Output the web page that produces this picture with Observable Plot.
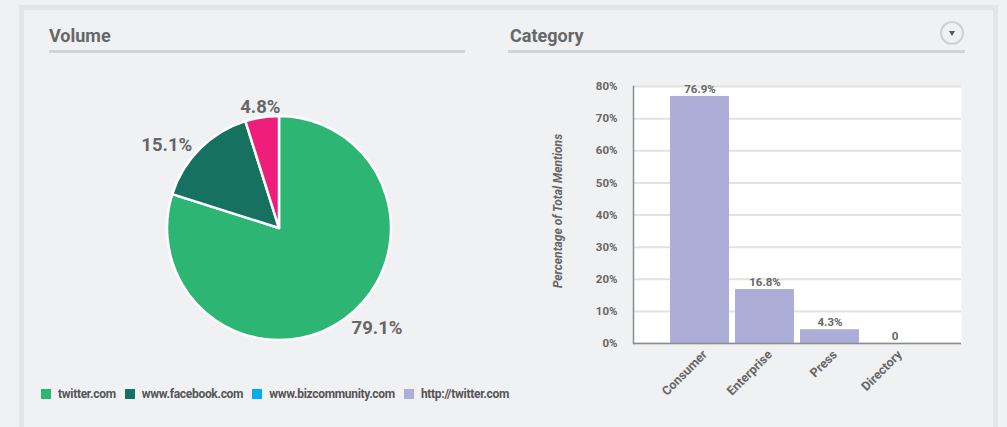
<!DOCTYPE html>
<html><head><meta charset="utf-8">
<script src="https://cdn.jsdelivr.net/npm/d3@7"></script>
<script src="https://cdn.jsdelivr.net/npm/@observablehq/plot@0.6"></script>
<style>
html,body{margin:0;padding:0}
body{background:#f0f1f3;font-family:Roboto,"DejaVu Sans",sans-serif;width:1007px;height:427px;overflow:hidden;position:relative;color:#666}
.frame{position:absolute;left:19px;top:5px;width:979px;height:440px;border:5px solid #e4e5e7;border-bottom:none;box-sizing:border-box}
.title{position:absolute;font-weight:700;font-size:18px;line-height:18px;color:#676767}
.rule{position:absolute;height:3px;background:#d2d3d5}
.icon{position:absolute;left:940px;top:21px;width:20px;height:20px;border:2px solid #cfd0d2;border-radius:50%;box-sizing:content-box}
.icon:after{content:"";position:absolute;left:7px;top:8px;border-left:3px solid transparent;border-right:3px solid transparent;border-top:5px solid #555}
#pie{position:absolute;left:49px;top:60px}
#bars{position:absolute;left:540px;top:70px}
#legend{position:absolute;left:41px;top:387px;display:flex;gap:9px;font-weight:700;font-size:12px;letter-spacing:-0.3px;color:#555;align-items:center}
#legend .item{display:flex;align-items:center;gap:7px}
#legend .sw{width:10px;height:10px;display:inline-block}
</style>
</head><body>
<div class="frame"></div>
<div class="title" style="left:49px;top:27px">Volume</div>
<div class="rule" style="left:49px;top:50px;width:416px"></div>
<div class="title" style="left:510px;top:27px">Category</div>
<div class="rule" style="left:508px;top:50px;width:457px"></div>
<div class="icon"></div>
<div id="pie"></div>
<div id="bars"></div>
<div id="legend"></div>
<script>
// Pie data
const pieDomains = ["twitter.com", "www.facebook.com", "www.bizcommunity.com"];
const pieShares = [79.1, 15.1, 4.8];
const pieLabels = ["79.1%", "15.1%", "4.8%"];
const pieColors = ["#2db673", "#177160", "#ee1e7a"];

// Legend
const legendNames = ["twitter.com", "www.facebook.com", "www.bizcommunity.com", "http://twitter.com"];
const legendColors = ["#2db673", "#177160", "#00aeef", "#adaed7"];

// Bar data
const categories = ["Consumer", "Enterprise", "Press", "Directory"];
const mentions = [76.9, 16.8, 4.3, 0];
const mentionLabels = ["76.9%", "16.8%", "4.3%", "0"];
const yTicks = [0, 10, 20, 30, 40, 50, 60, 70, 80];
const yTickLabels = ["0%", "10%", "20%", "30%", "40%", "50%", "60%", "70%", "80%"];
const yTitle = "Percentage of Total Mentions";

// ---- Pie ----
const pieData = pieDomains.map((d, i) => ({domain: d, share: pieShares[i], label: pieLabels[i]}));
const PW = 460, PH = 310, R = 112;
function pieMark(data) {
  return () => {
    const g = d3.create("svg:g").attr("transform", `translate(${PW / 2},${PH / 2 + 13})`);
    const arcs = d3.pie().sort(null).value(d => d.share)(data);
    const arc = d3.arc().innerRadius(0).outerRadius(R);
    const color = d3.scaleOrdinal(pieDomains, pieColors);
    g.selectAll("path").data(arcs).join("path")
      .attr("d", arc).attr("fill", d => color(d.data.domain))
      .attr("stroke", "#fff").attr("stroke-width", 2.5).attr("stroke-linejoin", "round");
    const lr = 123;
    g.selectAll("text").data(arcs).join("text")
      .each(function(d) {
        const a = (d.startAngle + d.endAngle) / 2;
        const x = Math.sin(a) * lr, y = -Math.cos(a) * lr;
        const anchor = x < -40 ? "end" : x > 40 ? "start" : "middle";
        d3.select(this).attr("x", x).attr("y", y).attr("text-anchor", anchor)
          .attr("dy", y < 0 && anchor !== "middle" ? "0.55em" : "0.35em").text(d.data.label);
      })
      .attr("fill", "#666").attr("font-weight", 700).attr("font-size", 18.5)
      .attr("font-family", "Roboto, sans-serif");
    return g.node();
  };
}
const pie = Plot.plot({
  width: PW, height: PH, margin: 0,
  style: {background: "transparent", overflow: "visible"},
  marks: [pieMark(pieData)]
});
document.getElementById("pie").append(pie);

// ---- Legend ----
const leg = document.getElementById("legend");
legendNames.forEach((n, i) => {
  const it = document.createElement("div"); it.className = "item";
  const sw = document.createElement("span"); sw.className = "sw"; sw.style.background = legendColors[i];
  const tx = document.createElement("span"); tx.textContent = n;
  it.append(sw, tx); leg.append(it);
});

// ---- Bars ----
const barData = categories.map((c, i) => ({category: c, value: mentions[i], label: mentionLabels[i]}));
const tickData = yTicks.map((v, i) => ({v, label: yTickLabels[i]}));
const bars = Plot.plot({
  width: 440, height: 330,
  marginLeft: 93, marginTop: 16, marginRight: 19, marginBottom: 57,
  style: {background: "transparent", fontFamily: "Roboto, sans-serif", overflow: "visible"},
  x: {domain: categories, paddingInner: 0.085, paddingOuter: 0.54, label: null},
  y: {domain: [0, 80], label: null, axis: null},
  marks: [
    Plot.frame({fill: "white", stroke: null}),
    Plot.gridY(yTicks, {stroke: "#e2e2e2", strokeOpacity: 1, strokeWidth: 2}),
    Plot.barY(barData, {x: "category", y: "value", fill: "#adaed7"}),
    Plot.text(barData, {x: "category", y: "value", text: "label", dy: -7, fontWeight: 700, fontSize: 11.5, fill: "#666"}),
    Plot.ruleY([0], {stroke: "#8c8c8c", strokeWidth: 1.5}),
    Plot.frame({anchor: "left", stroke: "#8c8c8c", strokeWidth: 1.5}),
    Plot.text(tickData, {y: "v", text: "label", frameAnchor: "left", textAnchor: "end", dx: -16, fontWeight: 700, fontSize: 11.5, fill: "#666"}),
    Plot.axisX({tickSize: 0, tickRotate: -45, tickPadding: 9, dx: 5, fontWeight: 700, fontSize: 12.5, fill: "#666", label: null}),
    Plot.text([yTitle], {frameAnchor: "left", textAnchor: "middle", rotate: -90, dx: -75, dy: -4, fontStyle: "italic", fontWeight: 700, fontSize: 12, fill: "#666"})
  ]
});
document.getElementById("bars").append(bars);
</script>
</body></html>
